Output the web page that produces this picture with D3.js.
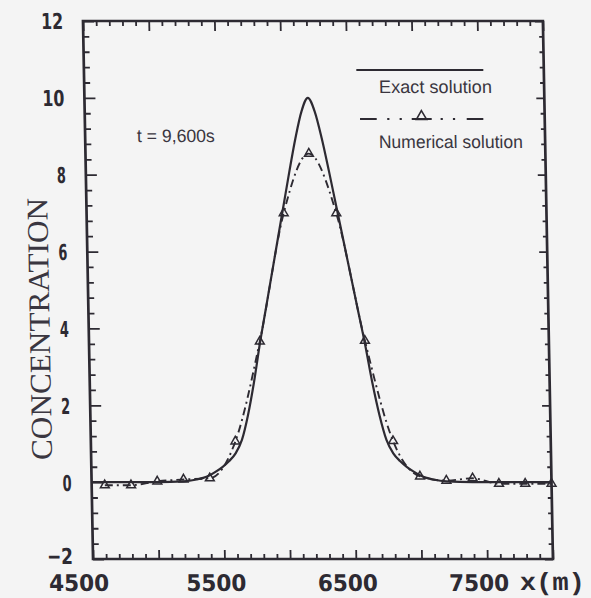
<!DOCTYPE html>
<html><head><meta charset="utf-8">
<script src="https://cdn.jsdelivr.net/npm/d3@7"></script>
<style>html,body{margin:0;padding:0;background:#f4f4f4;}svg{display:block}</style>
</head><body><svg id="c" width="591" height="598"></svg>
<script>
// ---- data ----
const xDomain = [4500, 8000];
const yDomain = [-2, 12];
const xMajorTicks = [4500, 5000, 5500, 6000, 6500, 7000, 7500, 8000];
const xLabelTicks = [4500, 5500, 6500, 7500];
const yMajorTicks = [-2, 0, 2, 4, 6, 8, 10, 12];

const exactX = [4500, 5000, 5200, 5300, 5350, 5400, 5450, 5500, 5550, 5600, 5650, 5700, 5750, 5800, 5850, 5900, 5950, 6000, 6050, 6100, 6150, 6200,
                6250, 6300, 6350, 6400, 6450, 6500, 6550, 6600, 6650, 6700, 6750, 6800, 6850, 6900, 6950, 7000, 7050, 7100, 7200, 7400, 8000];
const exactC = [0, 0, 0.02, 0.07, 0.11, 0.18, 0.28, 0.4, 0.55, 0.75, 1.1, 1.75, 2.6, 3.6, 4.5, 5.4, 6.3, 7.2, 8.1, 8.95, 9.65, 10.0,
                9.65, 8.95, 8.1, 7.2, 6.3, 5.4, 4.5, 3.6, 2.6, 1.75, 1.1, 0.75, 0.55, 0.4, 0.28, 0.18, 0.11, 0.07, 0.02, 0, 0];

const numX = [4600, 4800, 5000, 5200, 5400, 5600, 5800, 6000, 6200, 6400, 6600, 6800, 7000, 7200, 7400, 7600, 7800, 8000];
const numC = [-0.08, -0.08, 0.02, 0.07, 0.1, 1.06, 3.66, 7.0, 8.55, 7.0, 3.68, 1.07, 0.15, 0.04, 0.1, -0.04, -0.04, -0.04];

const legendLabels = ["Exact solution", "Numerical solution"];
const timeLabel = "t = 9,600s";
const yTitle = "CONCENTRATION";
const xTitle = "x(m)";

// ---- drawing ----
const ink = "#2d2a32", textInk = "#3a3640";
const svg = d3.select("#c");
svg.append("rect").attr("width", 591).attr("height", 598).attr("fill", "#f4f4f4");
const g = svg.append("g").attr("transform", "skewX(1.07)");

const x = d3.scaleLinear().domain(xDomain).range([82.6, 542.5]);
const y = d3.scaleLinear().domain(yDomain).range([559, 21]);

const xMinor = d3.range(xDomain[0], xDomain[1] + 1, 100).filter(v => v % 500 !== 0);
const yMinor = d3.range(0, 36).map(i => +(yDomain[0] + i * 0.4).toFixed(2)).filter(v => Math.abs(v % 2) > 1e-6 && v < 12);

function tickAxis(axis, tr) {
  const a = g.append("g").attr("transform", tr).call(axis);
  a.select(".domain").remove();
  a.selectAll("line").attr("stroke", ink).attr("stroke-width", 1.8);
  return a;
}
// bottom
tickAxis(d3.axisBottom(x).tickValues(xMinor).tickSize(-5).tickFormat(""), `translate(0,${y(yDomain[0])})`);
const bx = tickAxis(d3.axisBottom(x).tickValues(xMajorTicks).tickSize(-9)
  .tickFormat(d => xLabelTicks.includes(d) ? d3.format("d")(d) : ""), `translate(0,${y(yDomain[0])})`);
bx.selectAll("text").attr("y", 32).attr("dy", 0).attr("dx", d => d === xDomain[0] ? -15 : -9)
  .attr("font-family", "DejaVu Sans").attr("font-weight", "bold").attr("font-size", 23)
  .attr("fill", ink).attr("stroke", "none")
  .each(function(d){ if (xLabelTicks.includes(d)) d3.select(this).attr("textLength", 60).attr("lengthAdjust", "spacingAndGlyphs"); });
// top
tickAxis(d3.axisTop(x).tickValues(xMinor).tickSize(-5).tickFormat(""), `translate(0,${y(yDomain[1])})`);
tickAxis(d3.axisTop(x).tickValues(xMajorTicks).tickSize(-10).tickFormat(""), `translate(0,${y(yDomain[1])})`);
// left
tickAxis(d3.axisLeft(y).tickValues(yMinor).tickSize(-6).tickFormat(""), `translate(${x(xDomain[0])},0)`);
const ly = tickAxis(d3.axisLeft(y).tickValues(yMajorTicks).tickSize(-11).tickPadding(20).tickFormat(d3.format("d")), `translate(${x(xDomain[0])},0)`);
ly.selectAll("text").attr("dy", d => d === yDomain[0] ? "0.2em" : "0.36em")
  .attr("font-family", "DejaVu Sans").attr("font-weight", "bold").attr("font-size", 22)
  .attr("fill", ink)
  .each(function(d){
    const s = d3.format("d")(d);
    const w = d < 0 ? 26 : (s.length === 1 ? 9 : 22);
    d3.select(this).attr("textLength", w).attr("lengthAdjust", "spacingAndGlyphs");
  });
// right
tickAxis(d3.axisRight(y).tickValues(yMinor).tickSize(-4).tickFormat(""), `translate(${x(xDomain[1])},0)`);
tickAxis(d3.axisRight(y).tickValues(yMajorTicks).tickSize(-8).tickFormat(""), `translate(${x(xDomain[1])},0)`);

// frame
g.append("rect").attr("x", x(xDomain[0])).attr("y", y(yDomain[1]))
  .attr("width", x(xDomain[1]) - x(xDomain[0])).attr("height", y(yDomain[0]) - y(yDomain[1]))
  .attr("fill", "none").attr("stroke", ink).attr("stroke-width", 2.7);

// exact solution
const exactData = exactX.map((v, i) => [v, exactC[i]]);
g.append("path").datum(exactData)
  .attr("d", d3.line().x(d => x(d[0])).y(d => y(d[1])).curve(d3.curveMonotoneX))
  .attr("fill", "none").attr("stroke", ink).attr("stroke-width", 2.2);

// numerical solution
const numData = numX.map((v, i) => [v, numC[i]]);
g.append("path").datum(numData)
  .attr("d", d3.line().x(d => x(d[0])).y(d => y(d[1])).curve(d3.curveMonotoneX))
  .attr("fill", "none").attr("stroke", ink).attr("stroke-width", 1.9)
  .attr("stroke-dasharray", "8,4,2,4");
const tri = d3.symbol().type(d3.symbolTriangle).size(34);
g.selectAll(".tri").data(numData).join("path").attr("class", "tri")
  .attr("transform", d => `translate(${x(d[0])},${y(d[1])})`)
  .attr("d", tri).attr("fill", "none").attr("stroke", ink).attr("stroke-width", 1.5);

// legend
const lg = g.append("g");
lg.append("line").attr("x1", 355).attr("x2", 482).attr("y1", 70).attr("y2", 70)
  .attr("stroke", ink).attr("stroke-width", 2);
lg.append("text").attr("x", 377.3).attr("y", 93).text(legendLabels[0])
  .attr("font-family", "Liberation Sans, Arial, sans-serif").attr("font-size", 18).attr("fill", textInk)
  .attr("textLength", 113).attr("lengthAdjust", "spacingAndGlyphs");
lg.append("line").attr("x1", 357.8).attr("x2", 481.1).attr("y1", 119).attr("y2", 119)
  .attr("stroke", ink).attr("stroke-width", 2)
  .attr("stroke-dasharray", "16.7,10.5,2.2,10.2,2.2,9.9,20,8.9,2.2,10.1,2.2,11.6,16.6");
lg.append("path").attr("transform", "translate(419.3,116.5)")
  .attr("d", d3.symbol().type(d3.symbolTriangle).size(45)())
  .attr("fill", "none").attr("stroke", ink).attr("stroke-width", 1.6);
lg.append("text").attr("x", 376.2).attr("y", 148).text(legendLabels[1])
  .attr("font-family", "Liberation Sans, Arial, sans-serif").attr("font-size", 18).attr("fill", textInk)
  .attr("textLength", 144).attr("lengthAdjust", "spacingAndGlyphs");

// time label
g.append("text").attr("x", 134.3).attr("y", 142).text(timeLabel)
  .attr("font-family", "Liberation Sans, Arial, sans-serif").attr("font-size", 18).attr("fill", textInk)
  .attr("textLength", 78).attr("lengthAdjust", "spacingAndGlyphs");

// axis titles
g.append("text").attr("transform", "translate(43.5,329) rotate(-90)")
  .attr("text-anchor", "middle").text(yTitle)
  .attr("font-family", "Liberation Serif, Times New Roman, serif").attr("font-size", 30).attr("fill", textInk)
  .attr("textLength", 262).attr("lengthAdjust", "spacingAndGlyphs");
g.append("text").attr("x", 509).attr("y", 590).text(xTitle)
  .attr("font-family", "Liberation Mono, monospace").attr("font-weight", "bold").attr("font-size", 25).attr("fill", ink)
  .attr("textLength", 65).attr("lengthAdjust", "spacingAndGlyphs");
</script></body></html>
